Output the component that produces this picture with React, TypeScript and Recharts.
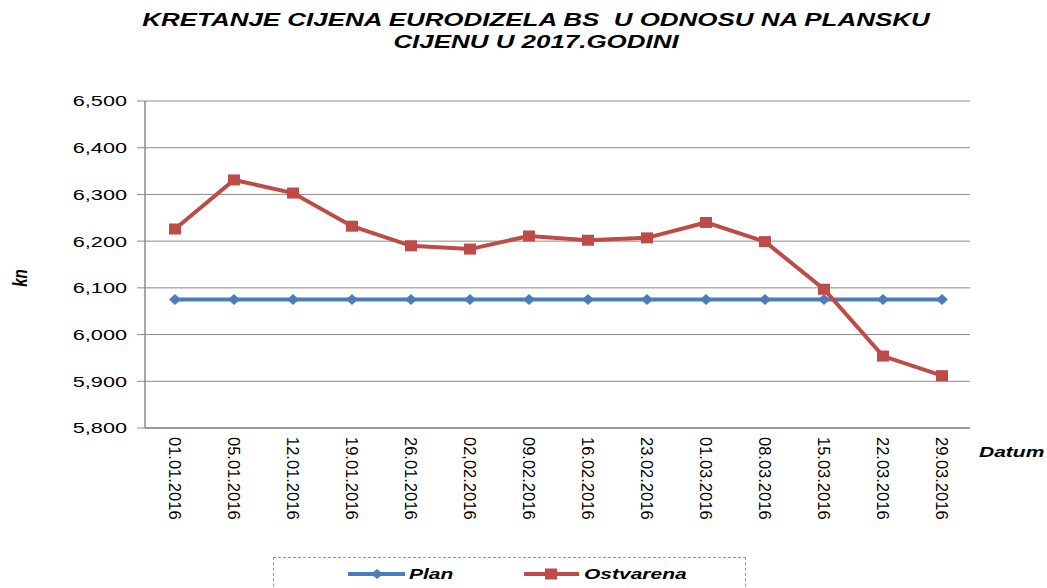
import * as React from "react";
import { LineChart, Line, XAxis, YAxis, CartesianGrid, Legend } from "recharts";

const dates = [
  "01.01.2016", "05.01.2016", "12.01.2016", "19.01.2016", "26.01.2016",
  "02,02.2016", "09.02.2016", "16.02.2016", "23.02.2016", "01.03.2016",
  "08.03.2016", "15.03.2016", "22.03.2016", "29.03.2016",
];
const plan = [6075, 6075, 6075, 6075, 6075, 6075, 6075, 6075, 6075, 6075, 6075, 6075, 6075, 6075];
const ostvarena = [6226, 6331, 6303, 6232, 6190, 6183, 6211, 6202, 6207, 6240, 6199, 6097, 5954, 5912];
const yTicks = [5800, 5900, 6000, 6100, 6200, 6300, 6400, 6500];

const BLUE = "#4A7EBB";
const RED = "#BE4B48";
const FONT = "'Liberation Sans', Arial, sans-serif";
const STRETCH = 1.4; // the source image is stretched horizontally

const data = dates.map((d, i) => ({ date: d, plan: plan[i], ostvarena: ostvarena[i] }));

const fmt = (v: number) => String(v).replace(/\B(?=(\d{3})+(?!\d))/g, ",");

const YTick = ({ x, y, payload }: any) => (
  <g transform={`translate(${x},${y})`}>
    <text transform={`scale(${STRETCH},1)`} textAnchor="end" dy="0.35em" fontSize={15.5} fill="#000" fontFamily={FONT}>
      {fmt(payload.value)}
    </text>
  </g>
);

const XTick = ({ x, y, payload }: any) => (
  <g transform={`translate(${x},${y})`}>
    <text transform="rotate(90)" textAnchor="start" dy="0.35em" fontSize={16.5} fill="#000" fontFamily={FONT}>
      {payload.value}
    </text>
  </g>
);

const Diamond = ({ cx, cy }: any) => (
  <polygon points={`${cx - 6},${cy} ${cx},${cy - 5.5} ${cx + 6},${cy} ${cx},${cy + 5.5}`} fill={BLUE} />
);

const Square = ({ cx, cy }: any) => <rect x={cx - 6} y={cy - 5.5} width={12} height={11} fill={RED} />;

const legendText: React.CSSProperties = {
  display: "inline-block",
  fontFamily: FONT,
  fontWeight: "bold",
  fontStyle: "italic",
  fontSize: 15,
  transform: `scaleX(${STRETCH})`,
  transformOrigin: "0 50%",
};

const renderLegend = () => (
  <div
    style={{
      width: 473,
      height: 40,
      border: "1px dashed #9a9a9a",
      position: "relative",
      boxSizing: "border-box",
    }}
  >
    <svg width={60} height={12} style={{ position: "absolute", left: 73, top: 10 }}>
      <line x1={1} y1={6} x2={58} y2={6} stroke={BLUE} strokeWidth={4} />
      <polygon points="24,6 30,1 36,6 30,11" fill={BLUE} />
    </svg>
    <span style={{ ...legendText, position: "absolute", left: 135, top: 7 }}>Plan</span>
    <svg width={60} height={14} style={{ position: "absolute", left: 249, top: 9 }}>
      <line x1={1} y1={7} x2={56} y2={7} stroke={RED} strokeWidth={4} />
      <rect x={22} y={1.5} width={12} height={11} fill={RED} />
    </svg>
    <span style={{ ...legendText, position: "absolute", left: 310, top: 7 }}>Ostvarena</span>
  </div>
);

export default function App() {
  return (
    <div style={{ position: "absolute", left: 0, top: 0, width: 1047, height: 588, background: "#fff", overflow: "hidden" }}>
      <div
        style={{
          position: "absolute",
          left: 0,
          top: 9,
          width: 1072,
          textAlign: "center",
          fontFamily: FONT,
          fontWeight: "bold",
          fontStyle: "italic",
          fontSize: 18,
          lineHeight: "22px",
          transform: "scaleX(1.44)",
          transformOrigin: "536px 0",
          whiteSpace: "pre",
        }}
      >
        {"KRETANJE CIJENA EURODIZELA BS  U ODNOSU NA PLANSKU\nCIJENU U 2017.GODINI"}
      </div>
      <LineChart width={1047} height={588} data={data} margin={{ top: 101, right: 77, left: 0, bottom: 60 }}>
        <CartesianGrid vertical={false} stroke="#8a8a8a" strokeWidth={1} />
        <XAxis
          dataKey="date"
          height={100}
          padding={{ left: 30, right: 28 }}
          axisLine={{ stroke: "#8a8a8a", strokeWidth: 1.5 }}
          tickLine={false}
          tickSize={0}
          tickMargin={9}
          interval={0}
          tick={<XTick />}
        />
        <YAxis
          width={145}
          domain={[5800, 6500]}
          ticks={yTicks}
          interval={0}
          axisLine={{ stroke: "#8a8a8a", strokeWidth: 1.5 }}
          tickLine={{ stroke: "#8a8a8a" }}
          tickSize={8}
          tickMargin={10}
          tick={<YTick />}
        />
        <Legend
          verticalAlign="middle"
          align="center"
          content={renderLegend}
          wrapperStyle={{ left: 273, top: 557, width: 475 }}
        />
        <Line
          type="linear"
          dataKey="plan"
          name="Plan"
          stroke={BLUE}
          strokeWidth={4}
          dot={<Diamond />}
          activeDot={false}
          isAnimationActive={false}
        />
        <Line
          type="linear"
          dataKey="ostvarena"
          name="Ostvarena"
          stroke={RED}
          strokeWidth={4}
          dot={<Square />}
          activeDot={false}
          isAnimationActive={false}
        />
      </LineChart>
      <div
        style={{
          position: "absolute",
          left: 11,
          top: 278,
          fontFamily: FONT,
          fontWeight: "bold",
          fontStyle: "italic",
          fontSize: 15,
          transform: "translateY(-50%) rotate(-90deg) scaleY(1.4)",
          transformOrigin: "50% 50%",
          lineHeight: "15px",
        }}
      >
        kn
      </div>
      <div
        style={{
          position: "absolute",
          left: 979,
          top: 443,
          fontFamily: FONT,
          fontWeight: "bold",
          fontStyle: "italic",
          fontSize: 15,
          lineHeight: "18px",
          transform: `scaleX(${STRETCH})`,
          transformOrigin: "0 0",
        }}
      >
        Datum
      </div>
    </div>
  );
}
